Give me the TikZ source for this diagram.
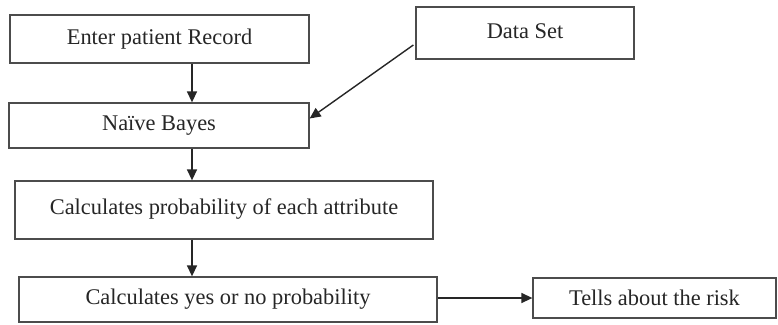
\documentclass[tikz,border=0pt]{standalone}
\usepackage{fontspec}
\setmainfont{Liberation Serif}
\usetikzlibrary{arrows.meta}
\begin{document}
\begin{tikzpicture}[x=1pt,y=-1pt,
  box/.style={draw=black!70,line width=1.3pt,rectangle,inner sep=0pt,
    font=\fontsize{22.4}{25}\selectfont,text=black!85},
  arr/.style={draw=black!85,line width=1.4pt,-{Triangle[length=11pt,width=10pt]}}]
\useasboundingbox (0,0) rectangle (778,324);
\fill[white] (0,0) rectangle (778,324);
\node[box,minimum width=299pt,minimum height=48pt] (b1) at (159.5,39) {\raisebox{1pt}{Enter patient Record}};
\node[box,minimum width=300pt,minimum height=45pt] (b2) at (159,125.5) {Naïve Bayes};
\node[box,minimum width=218pt,minimum height=52pt] (ds) at (525,33) {\raisebox{4pt}{Data Set}};
\node[box,minimum width=418pt,minimum height=58pt] (b3) at (224,210) {\raisebox{7pt}{Calculates probability of each attribute}};
\node[box,minimum width=418pt,minimum height=45pt] (b4) at (228,299.5) {Calculates yes or no probability};
\node[box,minimum width=243pt,minimum height=40pt] (b5) at (654.5,298) {Tells about the risk};
\coordinate (cx) at (192,0);
\draw[arr] (b1.south -| cx) -- (b2.north -| cx);
\draw[arr] (b2.south -| cx) -- (b3.north -| cx);
\draw[arr] (b3.south -| cx) -- (b4.north -| cx);
\draw[arr] ([xshift=-2pt,yshift=-12pt]ds.west) -- ([yshift=7pt]b2.east);
\draw[arr] (b5.west -| b4.east) -- (b5.west);
\end{tikzpicture}
\end{document}
